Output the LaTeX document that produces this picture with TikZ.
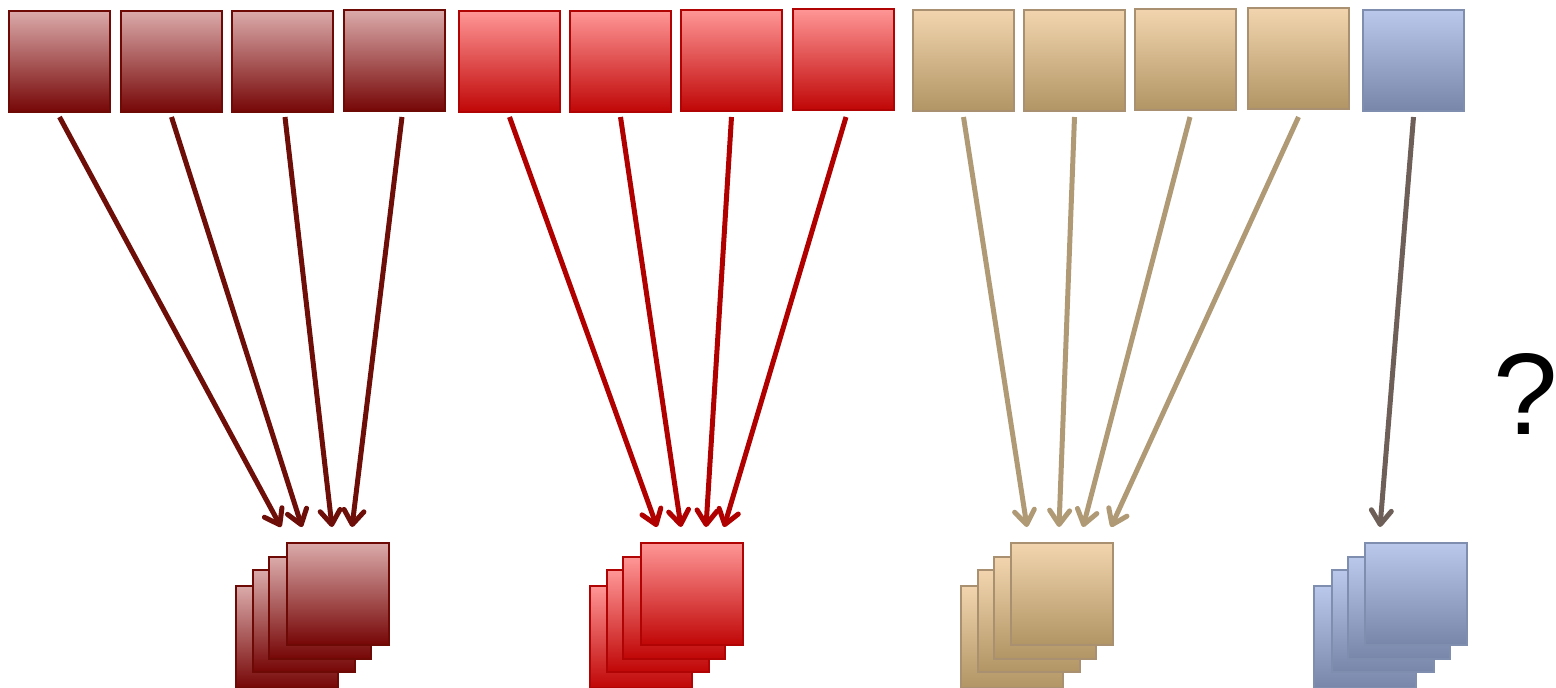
\documentclass[tikz,border=0pt]{standalone}
\usepackage{fontspec}
\setmainfont{Liberation Sans}
\usetikzlibrary{arrows.meta}
\definecolor{dTop}{HTML}{DBAAAA}
\definecolor{dMid}{HTML}{BC8E8E}
\definecolor{dBot}{HTML}{760606}
\definecolor{dLine}{HTML}{6E0A06}
\definecolor{dArr}{HTML}{6E0E08}
\definecolor{rTop}{HTML}{FF9696}
\definecolor{rMid}{HTML}{E86C6C}
\definecolor{rBot}{HTML}{C00606}
\definecolor{rLine}{HTML}{B00404}
\definecolor{rArr}{HTML}{B00000}
\definecolor{tTop}{HTML}{F2D5AE}
\definecolor{tMid}{HTML}{DCC095}
\definecolor{tBot}{HTML}{B19564}
\definecolor{tLine}{HTML}{A89070}
\definecolor{tArr}{HTML}{B09A76}
\definecolor{bTop}{HTML}{BAC8EC}
\definecolor{bMid}{HTML}{A0ACD0}
\definecolor{bBot}{HTML}{7886AA}
\definecolor{bLine}{HTML}{7F8DAF}
\definecolor{bArr}{HTML}{6E6058}
\tikzset{
  sq/.style={draw, line width=2pt, anchor=north west, inner sep=0pt, outer sep=0pt,
             minimum width=101pt, minimum height=101pt},
  big/.style={sq, minimum width=102pt, minimum height=102pt},
  boxD/.style={draw=dLine, top color=dTop, middle color=dMid, bottom color=dBot},
  boxR/.style={draw=rLine, top color=rTop, middle color=rMid, bottom color=rBot},
  boxT/.style={draw=tLine, top color=tTop, middle color=tMid, bottom color=tBot},
  boxB/.style={draw=bLine, top color=bTop, middle color=bMid, bottom color=bBot},
  arr/.style={line width=5pt, -{Straight Barb[length=14pt, width=20pt, line width=5pt, round]}},
  arrD/.style={arr, draw=dArr},
  arrR/.style={arr, draw=rArr},
  arrT/.style={arr, draw=tArr},
  arrB/.style={arr, draw=bArr}
}
\begin{document}
\begin{tikzpicture}[x=1pt, y=-1pt]
\useasboundingbox (0,0) rectangle (1556,688);
\clip (0,0) rectangle (1556,688);
% top row
\node[sq, boxD] (d1) at (9,11) {};
\node[sq, boxD] (d2) at (121,11) {};
\node[sq, boxD] (d3) at (232,11) {};
\node[sq, boxD] (d4) at (344,10) {};
\node[sq, boxR] (r1) at (459,11) {};
\node[sq, boxR] (r2) at (570,11) {};
\node[sq, boxR] (r3) at (681,10) {};
\node[sq, boxR] (r4) at (793,9) {};
\node[sq, boxT] (t1) at (913,10) {};
\node[sq, boxT] (t2) at (1024,10) {};
\node[sq, boxT] (t3) at (1135,9) {};
\node[sq, boxT] (t4) at (1248,8) {};
\node[sq, boxB] (b1) at (1363,10) {};
% stacks
\node[big, boxD] (sd1) at (236,586) {};
\node[big, boxD] (sd2) at (253,570) {};
\node[big, boxD] (sd3) at (269,557) {};
\node[big, boxD] (sd4) at (287,543) {};
\node[big, boxR] (sr1) at (590,586) {};
\node[big, boxR] (sr2) at (607,570) {};
\node[big, boxR] (sr3) at (623,557) {};
\node[big, boxR] (sr4) at (641,543) {};
\node[big, boxT] (st1) at (961,586) {};
\node[big, boxT] (st2) at (978,570) {};
\node[big, boxT] (st3) at (994,557) {};
\node[big, boxT] (st4) at (1011,543) {};
\node[big, boxB] (sb1) at (1314,586) {};
\node[big, boxB] (sb2) at (1332,570) {};
\node[big, boxB] (sb3) at (1348,557) {};
\node[big, boxB] (sb4) at (1365,543) {};
% arrow tips
\coordinate (td1) at (281,527);
\coordinate (td2) at (302,527);
\coordinate (td3) at (332,527);
\coordinate (td4) at (352,527);
\coordinate (tr1) at (657,527);
\coordinate (tr2) at (681,527);
\coordinate (tr3) at (706,527);
\coordinate (tr4) at (724,527);
\coordinate (tt1) at (1027,527);
\coordinate (tt2) at (1059,527);
\coordinate (tt3) at (1083,527);
\coordinate (tt4) at (1111,527);
\coordinate (tb1) at (1380,527);
% arrows
\draw[arrD] (d1.south) ++(0,5) -- (td1);
\draw[arrD] (d2.south) ++(0,5) -- (td2);
\draw[arrD] ([xshift=2.5pt]d3.south) ++(0,5) -- (td3);
\draw[arrD] ([xshift=7.5pt]d4.south) ++(0,6) -- (td4);
\draw[arrR] (r1.south) ++(0,5) -- (tr1);
\draw[arrR] (r2.south) ++(0,5) -- (tr2);
\draw[arrR] (r3.south) ++(0,6) -- (tr3);
\draw[arrR] ([xshift=2.5pt]r4.south) ++(0,7) -- (tr4);
\draw[arrT] (t1.south) ++(0,6) -- (tt1);
\draw[arrT] (t2.south) ++(0,6) -- (tt2);
\draw[arrT] ([xshift=4.5pt]t3.south) ++(0,7) -- (tt3);
\draw[arrT] (t4.south) ++(0,8) -- (tt4);
\draw[arrB] (b1.south) ++(0,6) -- (tb1);
% question mark
\node[font=\fontsize{116}{116}\selectfont, inner sep=0pt] (q) at (1526,394) {?};
\end{tikzpicture}
\end{document}
